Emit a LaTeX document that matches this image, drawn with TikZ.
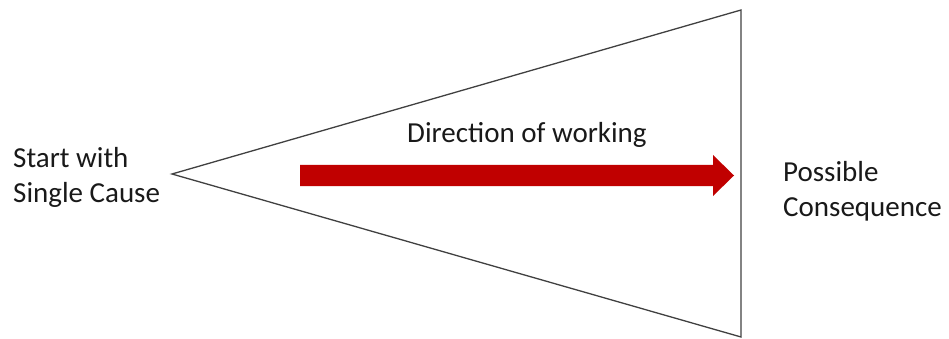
\documentclass[tikz,border=0pt]{standalone}
\usepackage{fontspec}
\setmainfont{Carlito}
\definecolor{arrowred}{HTML}{C00000}
\definecolor{edgegray}{HTML}{404040}
\begin{document}
\begin{tikzpicture}[x=1pt,y=-1pt,
  label text/.style={inner sep=0pt,font=\fontsize{29}{34.5}\selectfont,align=left,text=black!90},
  funnel/.style={draw=edgegray,line width=1.3pt,line join=miter}]
\useasboundingbox (0,0) rectangle (949,339);
% triangle
\coordinate (apex) at (172,174);
\coordinate (top) at (741,10);
\coordinate (bottom) at (741,337);
\draw[funnel] (apex) -- (top) -- (bottom) -- cycle;
% arrow
\coordinate (astart) at (300,175.5);
\coordinate (atip) at (734,175.5);
\fill[arrowred] (astart) ++(0,-10.5) -- (713,165) -- (713,155) -- (atip) -- (713,196) -- (713,186) -- (300,186) -- cycle;
% texts
\node[label text,anchor=base west] (cause) at (13,202) {Start with\\Single Cause};
\node[label text,anchor=base west] (dir) at (407,143) {Direction of working};
\node[label text,anchor=base west] (cons) at (783,216) {Possible\\Consequence};
\end{tikzpicture}
\end{document}
